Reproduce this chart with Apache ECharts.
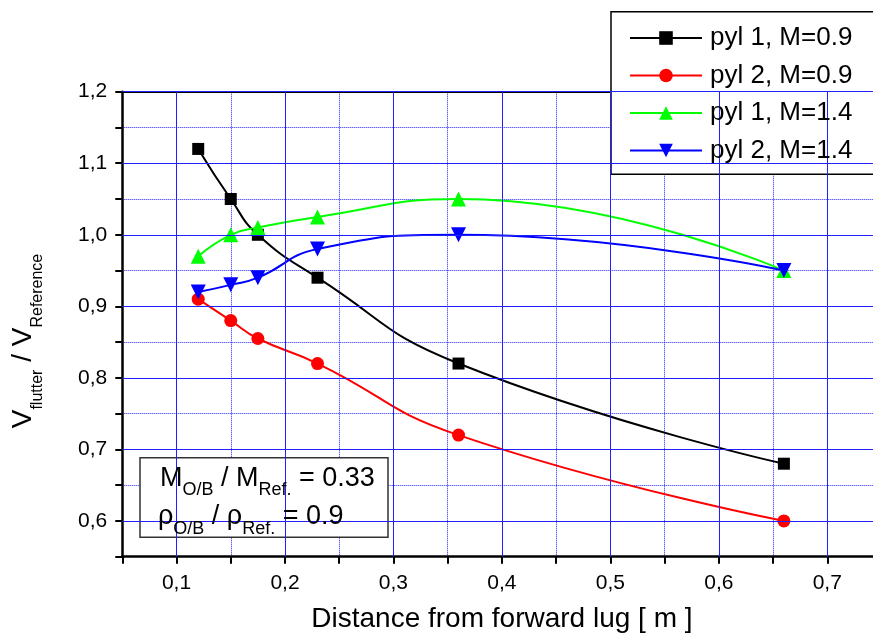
<!DOCTYPE html>
<html>
<head>
<meta charset="utf-8">
<script src="https://cdn.jsdelivr.net/npm/echarts@6/dist/echarts.min.js"></script>
<style>
html,body{margin:0;padding:0;background:#fff;}
#chart{width:873px;height:637px;}
</style>
</head>
<body>
<div id="chart"></div>
<script>
// ---- data ----
const xDistance = [0.12, 0.15, 0.175, 0.23, 0.36, 0.66];
const pyl1M09 = [1.12, 1.05, 1.0, 0.94, 0.82, 0.68];
const pyl2M09 = [0.91, 0.88, 0.855, 0.82, 0.72, 0.60];
const pyl1M14 = [0.97, 1.0, 1.01, 1.025, 1.05, 0.95];
const pyl2M14 = [0.92, 0.93, 0.94, 0.98, 1.0, 0.95];
const seriesNames = ['pyl 1, M=0.9', 'pyl 2, M=0.9', 'pyl 1, M=1.4', 'pyl 2, M=1.4'];
const xMajorTicks = [0.1, 0.2, 0.3, 0.4, 0.5, 0.6, 0.7];
const yMajorTicks = [0.6, 0.7, 0.8, 0.9, 1.0, 1.1, 1.2];
const xTitle = 'Distance from forward lug [ m ]';
const yTitle = '{m|V}{s|flutter}{m| / V}{s|Reference}';
const note1 = '{m|M}{s|O/B}{m| / M}{s|Ref.}{m| = 0.33}';
const note2 = '{m|\u03C1}{s|O/B}{m| / \u03C1}{s|Ref.}{m| = 0.9}';

const FONT = '"Liberation Sans", Arial, sans-serif';
const GRID_BLUE = '#1f1fff';

function pairs(ys){ return xDistance.map((x,i)=>[x, ys[i]]); }
function majorFmt(v){
  if (Math.abs(v*10 - Math.round(v*10)) < 1e-6) return v.toFixed(1).replace('.', ',');
  return '';
}

const chart = echarts.init(document.getElementById('chart'), null, {renderer:'canvas'});

const commonSeries = (name, data, color, symbol, size, rotate) => ({
  name, type:'line', data: pairs(data), smooth:0.5, z:3,
  symbol, symbolSize:size, symbolRotate: rotate || 0,
  lineStyle:{color, width:2}, itemStyle:{color, borderWidth:0},
  emphasis:{disabled:true}, animation:false
});

const richMainY = {fontSize:28, verticalAlign:'top', fontFamily:FONT, fill:'#000'};
const richSubY = {fontSize:16, verticalAlign:'top', padding:[20,0,0,0], fontFamily:FONT, fill:'#000'};
const richMain = {fontSize:27, verticalAlign:'top', fontFamily:FONT, fill:'#000'};
const richSub  = {fontSize:18, verticalAlign:'top', padding:[16.7,0,0,0], fontFamily:FONT, fill:'#000'};

chart.setOption({
  animation:false,
  backgroundColor:'#fff',
  grid:{left:122.3, top:91.7, right:-8.5, bottom:80.3, containLabel:false, outerBoundsMode:'none'},
  xAxis:[{
    type:'value', min:0.05, max:0.75, interval:0.05, position:'bottom',
    axisLine:{show:true, onZero:false, lineStyle:{color:'#000', width:2.5}},
    axisTick:{show:true, inside:false, length:7, lineStyle:{color:'#000', width:2}},
    axisLabel:{show:true, formatter:majorFmt, fontSize:21, color:'#000', fontFamily:FONT, margin:16, showMinLabel:true, showMaxLabel:true, hideOverlap:false},
    splitLine:{show:true, lineStyle:{color:GRID_BLUE, type:'dotted', width:1}},
    name:xTitle, nameLocation:'middle', nameGap:49,
    nameTextStyle:{fontSize:28, color:'#000', fontFamily:FONT}
  },{
    type:'value', min:0.05, max:0.75, position:'top',
    axisLine:{show:true, onZero:false, lineStyle:{color:'#000', width:2}},
    axisTick:{show:false}, axisLabel:{show:false}, splitLine:{show:false}
  }],
  yAxis:[{
    type:'value', min:0.55, max:1.2, interval:0.05, position:'left',
    axisLine:{show:true, onZero:false, lineStyle:{color:'#000', width:2.5}},
    axisTick:{show:true, inside:false, length:7, lineStyle:{color:'#000', width:2}},
    axisLabel:{show:true, formatter:majorFmt, fontSize:21, color:'#000', fontFamily:FONT, margin:15, showMinLabel:true, showMaxLabel:true, hideOverlap:false},
    splitLine:{show:true, lineStyle:{color:GRID_BLUE, type:'dotted', width:1}}
  },{
    type:'value', min:0.55, max:1.2, position:'right',
    axisLine:{show:true, onZero:false, lineStyle:{color:'#000', width:2}},
    axisTick:{show:false}, axisLabel:{show:false}, splitLine:{show:false}
  }],
  legend:{
    data:seriesNames, orient:'vertical', left:629, top:25, padding:0,
    itemWidth:72, itemHeight:17, itemGap:11.5, selectedMode:false, z:6,
    textStyle:{fontSize:26, color:'#000', fontFamily:FONT, padding:[0,0,0,3]}
  },
  series:[
    {type:'line', data:[], silent:true, z:1, animation:false,
     markLine:{silent:true, symbol:['none','none'], label:{show:false}, animation:false,
       lineStyle:{color:GRID_BLUE, type:'solid', width:1},
       emphasis:{disabled:true},
       data:[...xMajorTicks.map(v=>({xAxis:v})), ...yMajorTicks.map(v=>({yAxis:v}))]}},
    commonSeries(seriesNames[0], pyl1M09, '#000000', 'rect', 12),
    commonSeries(seriesNames[1], pyl2M09, '#ff0000', 'circle', 13),
    commonSeries(seriesNames[2], pyl1M14, '#00ff00', 'triangle', 15),
    commonSeries(seriesNames[3], pyl2M14, '#0000ff', 'triangle', 15, 180)
  ],
  graphic:[
    {type:'rect', z:5, shape:{x:611, y:11.7, width:300, height:162.5},
     style:{fill:'#fff', stroke:'#000', lineWidth:1.5}},
    {type:'rect', z:5, shape:{x:140, y:457.7, width:248, height:79.5},
     style:{fill:'#fff', stroke:'#333', lineWidth:1.5}},
    {type:'text', z:6, x:160, y:464.8,
     style:{text:note1, rich:{m:richMain, s:richSub}, align:'left', verticalAlign:'top'}},
    {type:'text', z:6, x:158, y:503.1,
     style:{text:note2, rich:{m:richMain, s:richSub}, align:'left', verticalAlign:'top'}},
    {type:'text', z:6, x:9.3, y:341, rotation:Math.PI/2,
     style:{text:yTitle, rich:{m:richMainY, s:richSubY}, align:'center', verticalAlign:'top'}}
  ]
});
</script>
</body>
</html>
